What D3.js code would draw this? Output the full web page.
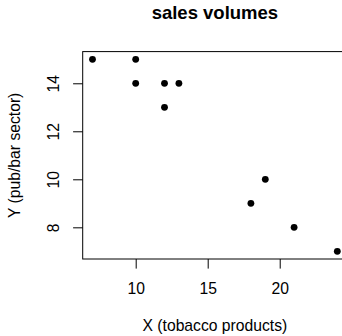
<!DOCTYPE html>
<html><head><meta charset="utf-8">
<script src="https://cdn.jsdelivr.net/npm/d3@7"></script>
<style>body{margin:0;background:#fff}svg{display:block}text{font-family:"Liberation Sans",Arial,Helvetica,sans-serif}</style>
</head><body><svg id="c" width="342" height="336"></svg>
<script>
const xValues = [7, 10, 10, 12, 13, 12, 18, 19, 21, 24];
const yValues = [15, 15, 14, 14, 14, 13, 9, 10, 8, 7];
const xTicks = [10, 15, 20];
const yTicks = [8, 10, 12, 14];
const title = "sales volumes";
const xLabel = "X (tobacco products)";
const yLabel = "Y (pub/bar sector)";

const svg = d3.select("#c");
const L = 82.7, R = 347.1, T = 51.6, B = 259;
const x = d3.scaleLinear().domain([6.32, 24.68]).range([L, R]);
const y = d3.scaleLinear().domain([6.68, 15.32]).range([B, T]);

svg.append("rect").attr("x", L).attr("y", T).attr("width", R - L).attr("height", B - T)
  .attr("fill", "none").attr("stroke", "#000").attr("stroke-width", 1);

const fs = 15.7;
const xa = svg.append("g").attr("transform", `translate(0,${B})`)
  .call(d3.axisBottom(x).tickValues(xTicks).tickSize(9.6).tickPadding(0).tickFormat(d3.format("d")));
xa.select(".domain").remove();
xa.selectAll("line").attr("stroke", "#000");
xa.selectAll("text").attr("font-size", fs).attr("fill", "#000").attr("y", 34.5).attr("dy", 0);

const ya = svg.append("g").attr("transform", `translate(${L},0)`)
  .call(d3.axisLeft(y).tickValues(yTicks).tickSize(9.6).tickFormat(d3.format("d")));
ya.select(".domain").remove();
ya.selectAll("line").attr("stroke", "#000");
ya.selectAll("text").attr("font-size", fs).attr("fill", "#000")
  .attr("x", 0).attr("dy", 0).attr("text-anchor", "middle")
  .attr("transform", "translate(-23.4,0) rotate(-90)");

svg.append("g").selectAll("circle").data(xValues).join("circle")
  .attr("cx", (d) => x(d)).attr("cy", (d, i) => y(yValues[i])).attr("r", 3.4).attr("fill", "#000");

svg.append("text").attr("x", (L + R) / 2).attr("y", 19).attr("text-anchor", "middle")
  .attr("font-size", 18.5).attr("font-weight", "bold").text(title);
svg.append("text").attr("x", (L + R) / 2).attr("y", 331).attr("text-anchor", "middle")
  .attr("font-size", fs).text(xLabel);
svg.append("text").attr("transform", `translate(20,${(T + B) / 2}) rotate(-90)`).attr("text-anchor", "middle")
  .attr("font-size", fs).text(yLabel);
</script></body></html>
